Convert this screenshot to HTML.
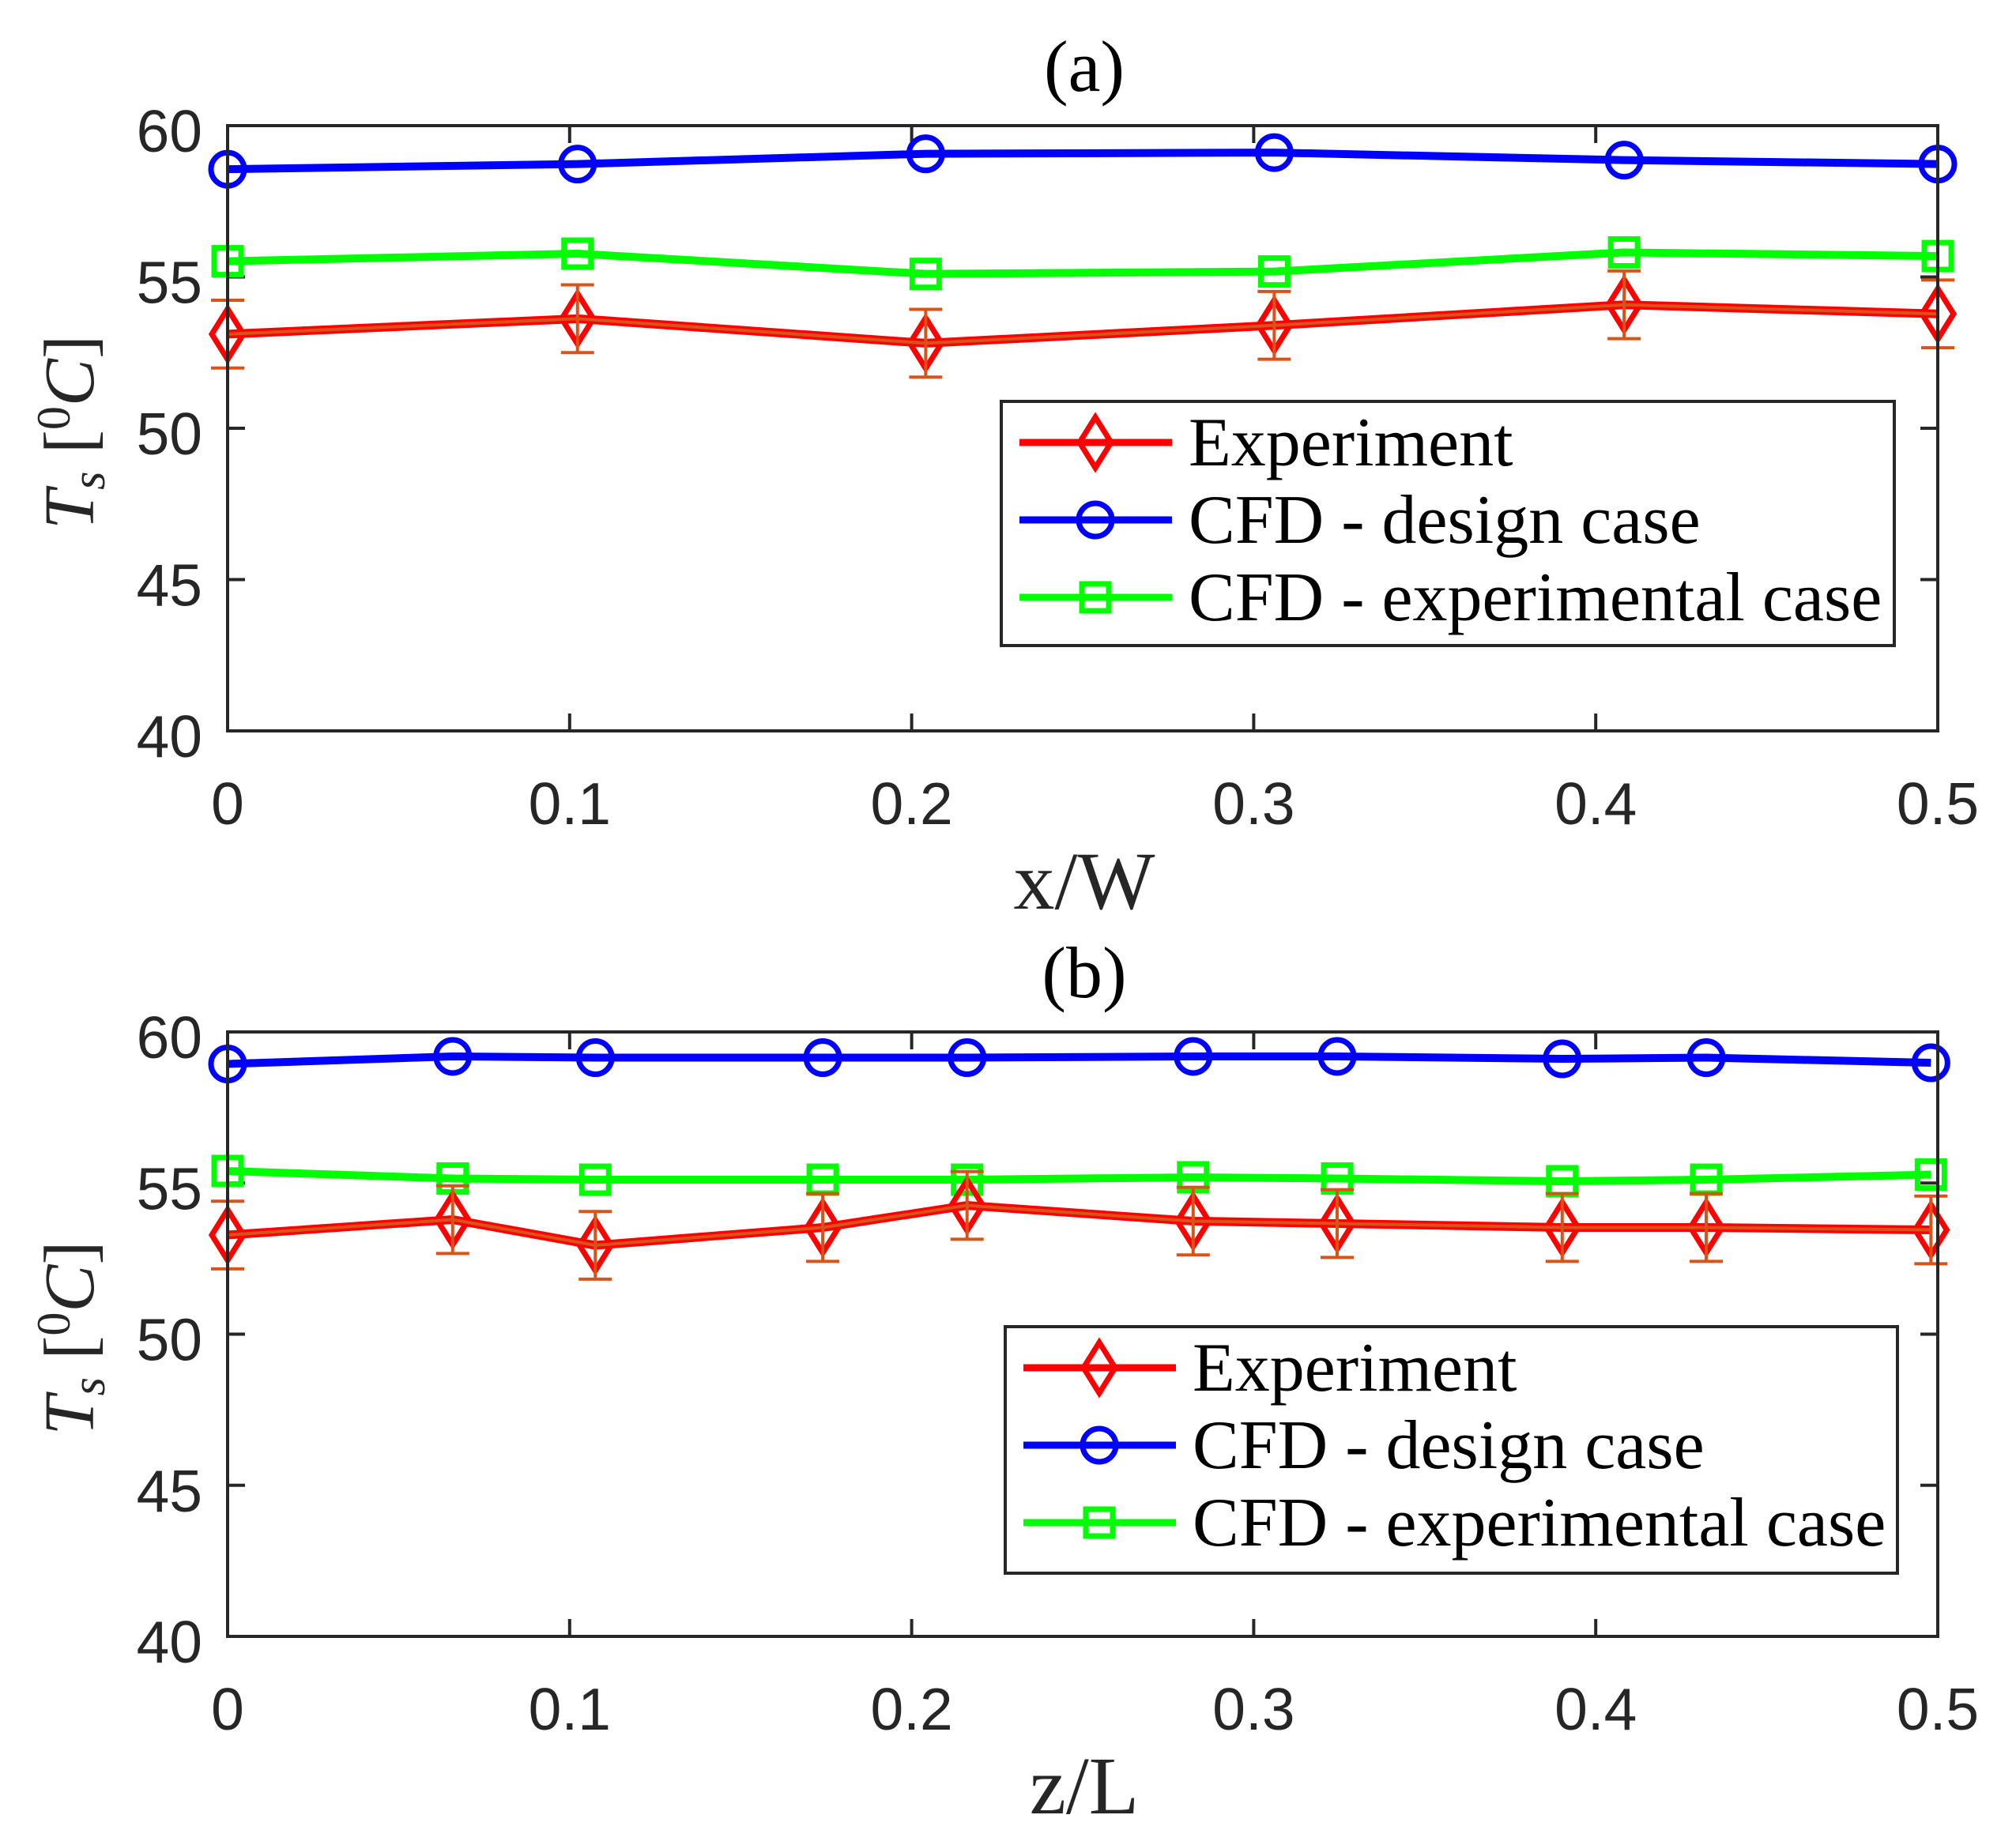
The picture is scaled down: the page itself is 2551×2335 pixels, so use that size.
<!DOCTYPE html>
<html><head><meta charset="utf-8">
<style>html,body{margin:0;padding:0;background:#fff}svg{display:block}</style>
</head><body>
<svg id="fig" width="2551" height="2335" viewBox="0 0 2551 2335" xmlns="http://www.w3.org/2000/svg">
<rect width="2551" height="2335" fill="#fff"/>
</svg>
<script>
// Panel (a) data
const xA = [0, 0.1023, 0.2041, 0.3060, 0.4083, 0.5];
const blueA = [58.56, 58.73, 59.07, 59.11, 58.86, 58.73];
const greenA = [55.52, 55.77, 55.10, 55.18, 55.81, 55.69];
const redA = [53.11, 53.62, 52.81, 53.40, 54.08, 53.78];
const errA = [1.12, 1.12, 1.12, 1.12, 1.12, 1.12];
// Panel (b) data
const xB = [0, 0.0658, 0.1075, 0.174, 0.2162, 0.2823, 0.3244, 0.3902, 0.4323, 0.498];
const blueB = [58.94, 59.19, 59.15, 59.15, 59.15, 59.19, 59.19, 59.11, 59.15, 58.98];
const greenB = [55.40, 55.15, 55.11, 55.11, 55.11, 55.19, 55.15, 55.06, 55.11, 55.28];
const redB = [53.28, 53.79, 52.94, 53.53, 54.26, 53.74, 53.66, 53.53, 53.53, 53.45];
const errB = [1.12, 1.12, 1.12, 1.12, 1.12, 1.12, 1.12, 1.12, 1.12, 1.12];
const xTicks = [0, 0.1, 0.2, 0.3, 0.4, 0.5];
const xTickLabels = ["0", "0.1", "0.2", "0.3", "0.4", "0.5"];
const yTicks = [40, 45, 50, 55, 60];
const yTickLabels = ["40", "45", "50", "55", "60"];
const legendLabels = ["Experiment", "CFD - design case", "CFD - experimental case"];

const NS = "http://www.w3.org/2000/svg";
const svg = document.getElementById('fig');
function mk(tag, attrs, parent) {
  const e = document.createElementNS(NS, tag);
  for (const k in attrs) e.setAttribute(k, attrs[k]);
  (parent || svg).appendChild(e);
  return e;
}
const L = 288, R = 2452;
const AX = "#262626";

function marker(g, type, cx, cy, color) {
  let m;
  if (type === 'o') m = mk('circle', {cx: cx, cy: cy, r: 21, fill: 'none', stroke: color, 'stroke-width': 7}, g);
  else if (type === 's') m = mk('rect', {x: cx - 17, y: cy - 17, width: 34, height: 34, fill: 'none', stroke: color, 'stroke-width': 7}, g);
  else m = mk('polygon', {points: `${cx},${cy - 32} ${cx + 20},${cy} ${cx},${cy + 32} ${cx - 20},${cy}`, fill: 'none', stroke: color, 'stroke-width': 7}, g);
  
  
}

function panel(id, T, B, xs, blue, green, red, err, title, xlabel, titleY, xlabY, leg) {
  const g = mk('g', {});
  
  
  const sx = v => L + (v / 0.5) * (R - L);
  const sy = v => B - (v - 40) / 20 * (B - T);

  xTicks.forEach((t, i) => {
    const x = sx(t);
    mk('line', {x1: x, y1: B, x2: x, y2: B - 22, stroke: AX, 'stroke-width': 4}, g);
    mk('line', {x1: x, y1: T, x2: x, y2: T + 22, stroke: AX, 'stroke-width': 4}, g);
    const tl = mk('text', {x: x, y: B + 118, 'text-anchor': 'middle', 'font-family': 'Liberation Sans, sans-serif', 'font-size': 75, fill: AX}, g);
    tl.textContent = xTickLabels[i];
    
    
  });
  yTicks.forEach((t, i) => {
    const y = sy(t);
    mk('line', {x1: L, y1: y, x2: L + 22, y2: y, stroke: AX, 'stroke-width': 4}, g);
    mk('line', {x1: R, y1: y, x2: R - 22, y2: y, stroke: AX, 'stroke-width': 4}, g);
    const tl = mk('text', {x: 256, y: y + 33, 'text-anchor': 'end', 'font-family': 'Liberation Sans, sans-serif', 'font-size': 75, fill: AX}, g);
    tl.textContent = yTickLabels[i];
    
    
  });

  const pb = mk('polyline', {points: xs.map((v, i) => sx(v) + ',' + sy(blue[i])).join(' '), fill: 'none', stroke: '#0000ff', 'stroke-width': 10}, g);
  
  
  xs.forEach((v, i) => marker(g, 'o', sx(v), sy(blue[i]), '#0000ff'));
  const pg = mk('polyline', {points: xs.map((v, i) => sx(v) + ',' + sy(green[i])).join(' '), fill: 'none', stroke: '#00ff00', 'stroke-width': 10}, g);
  
  
  xs.forEach((v, i) => marker(g, 's', sx(v), sy(green[i]), '#00ff00'));
  const pr = mk('polyline', {points: xs.map((v, i) => sx(v) + ',' + sy(red[i])).join(' '), fill: 'none', stroke: '#ff0000', 'stroke-width': 11}, g);
  
  
  xs.forEach((v, i) => marker(g, 'd', sx(v), sy(red[i]), '#ff0000'));
  const po = mk('polyline', {points: xs.map((v, i) => sx(v) + ',' + sy(red[i])).join(' '), fill: 'none', stroke: '#D95319', 'stroke-width': 4}, g);
  
  
  xs.forEach((v, i) => {
    const x = sx(v), y1 = sy(red[i] + err[i]), y2 = sy(red[i] - err[i]);
    const eb = mk('path', {d: `M${x},${y1}V${y2}M${x - 21},${y1}H${x + 21}M${x - 21},${y2}H${x + 21}`, stroke: '#D95319', 'stroke-width': 4, fill: 'none'}, g);
    
    
  });

  const ab = mk('rect', {x: L, y: T, width: R - L, height: B - T, fill: 'none', stroke: AX, 'stroke-width': 4}, g);
  
  

  const tt = mk('text', {x: 1372, y: titleY, 'text-anchor': 'middle', 'font-family': 'Liberation Serif, serif', 'font-size': 92, fill: '#000'}, g);
  tt.textContent = title;
  
  
  const xl = mk('text', {x: 1372, y: xlabY, 'text-anchor': 'middle', 'font-family': 'Liberation Serif, serif', 'font-size': 104, fill: AX}, g);
  xl.textContent = xlabel;
  
  
  const cy = (T + B) / 2 + 5;
  const yl = mk('text', {x: 0, y: 0, transform: `translate(118,${cy}) rotate(-90)`, 'text-anchor': 'middle', 'font-family': 'Liberation Serif, serif', 'font-size': 90, fill: AX}, g);
  yl.innerHTML = '<tspan font-style="italic">T</tspan><tspan font-style="italic" font-size="60" dy="14">s</tspan><tspan dy="-14"> [</tspan><tspan font-size="60" dy="-30">0</tspan><tspan font-style="italic" dy="30">C</tspan><tspan>]</tspan>';
  
  

  const lg = mk('g', {}, g);
  
  
  mk('rect', {x: leg.x, y: leg.y, width: leg.w, height: leg.h, fill: '#fff', stroke: AX, 'stroke-width': 4}, lg);
  const cols = ['#ff0000', '#0000ff', '#00ff00'], types = ['d', 'o', 's'];
  for (let i = 0; i < 3; i++) {
    const ry = leg.y + 52 + i * 98;
    const le = mk('g', {}, lg);
    
    
    mk('line', {x1: leg.x + 23, y1: ry, x2: leg.x + 216, y2: ry, stroke: cols[i], 'stroke-width': 9}, le);
    marker(le, types[i], leg.x + 119, ry, cols[i]);
    const t = mk('text', {x: leg.x + 237, y: ry + 29, 'font-family': 'Liberation Serif, serif', 'font-size': 88, fill: '#000'}, le);
    t.textContent = legendLabels[i];
  }
}

panel('panel-a', 159, 925, xA, blueA, greenA, redA, errA, '(a)', 'x/W', 115, 1150, {x: 1267, y: 508, w: 1130, h: 309});
panel('panel-b', 1306, 2071, xB, blueB, greenB, redB, errB, '(b)', 'z/L', 1262, 2295, {x: 1272, y: 1679, w: 1129, h: 312});
</script>
</body></html>
